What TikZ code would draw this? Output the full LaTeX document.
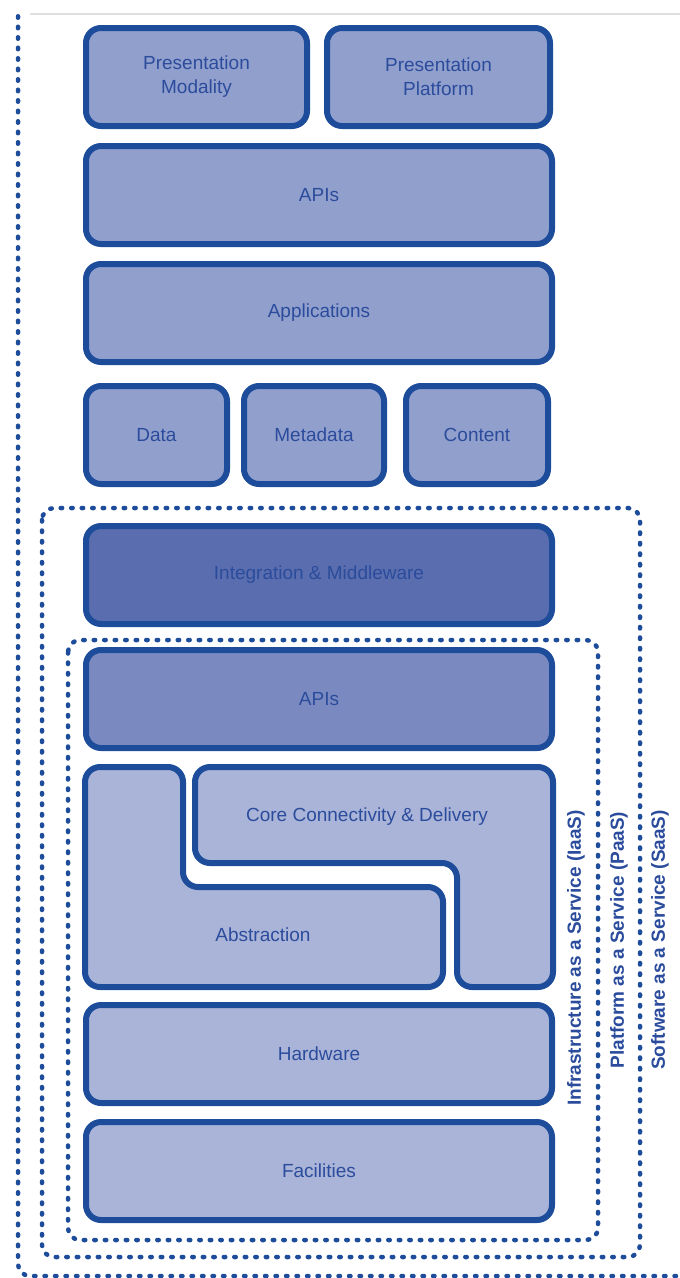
\documentclass[tikz,border=0pt]{standalone}
\usepackage{fontspec}
\setmainfont{Liberation Sans}

\definecolor{edgeblue}{HTML}{1D4C9A}
\definecolor{lightfill}{HTML}{AAB4D8}
\definecolor{topfill}{HTML}{919FCD}
\definecolor{midfill}{HTML}{7A8AC1}
\definecolor{darkfill}{HTML}{5A6DAE}
\definecolor{labelblue}{HTML}{2B4C9C}

\tikzset{
  layer/.style={draw=edgeblue, line width=6pt, rounded corners=15pt, fill=lightfill,
    text=labelblue, font=\fontsize{19}{24}\selectfont, align=center, inner sep=0pt},
  toplayer/.style={layer, fill=topfill},
  wide/.style={minimum width=466pt, minimum height=98pt},
  dotbox/.style={draw=edgeblue, line width=4.5pt, line cap=round,
    dash pattern=on 1.5pt off 9pt, rounded corners=12pt},
  tierlabel/.style={rotate=90, text=labelblue, font=\bfseries\fontsize{19}{24}\selectfont}
}

\begin{document}
\begin{tikzpicture}[x=1pt, y=-1pt]
\useasboundingbox (0,0) rectangle (680,1278);

% service tiers
\draw[gray!25, line width=1.5pt] (30,14) -- (680,14);
\draw[dotbox] (676,1276) -- (18,1276) -- (18,14);
\draw[dotbox] (42,508) rectangle (640,1257);
\draw[dotbox] (68,640) rectangle (598,1240);

% top of the stack
\node[toplayer, minimum width=221pt, minimum height=98pt] (pmodality) at (196.5,77) {Presentation\\Modality};
\node[toplayer, minimum width=223pt, minimum height=98pt] (pplatform) at (438.5,77) {Presentation\\Platform};
\node[toplayer, wide] (apitop) at (319,195) {APIs};
\node[toplayer, wide] (apps) at (319,313) {Applications};
\node[toplayer, minimum width=141pt, minimum height=98pt] (data) at (156.5,435) {Data};
\node[toplayer, minimum width=140pt, minimum height=98pt] (meta) at (314,435) {Metadata};
\node[toplayer, minimum width=142pt, minimum height=98pt] (content) at (477,435) {Content};

% platform
\node[layer, wide, fill=darkfill] (middleware) at (319,575) {Integration \& Middleware};

% infrastructure
\node[layer, wide, fill=midfill] (apilow) at (319,699) {APIs};

\draw[layer] (85,767) -- (183,767) -- (183,887) -- (443,887) -- (443,987) -- (85,987) -- cycle;
\draw[layer] (195,767) -- (553,767) -- (553,987) -- (457,987) -- (457,863) -- (195,863) -- cycle;
\node[text=labelblue, font=\fontsize{19}{24}\selectfont] (abstraction) at (263,935) {Abstraction};
\node[text=labelblue, font=\fontsize{19}{24}\selectfont] (core) at (367,817) {Core Connectivity \& Delivery};

\node[layer, wide] (hardware) at (319,1054) {Hardware};
\node[layer, wide] (facilities) at (319,1171) {Facilities};

% tier names
\node[tierlabel] (iaas) at (576,958) {Infrastructure as a Service (IaaS)};
\node[tierlabel] (paas) at (619,940) {Platform as a Service (PaaS)};
\node[tierlabel] (saas) at (660,940) {Software as a Service (SaaS)};

\end{tikzpicture}
\end{document}
